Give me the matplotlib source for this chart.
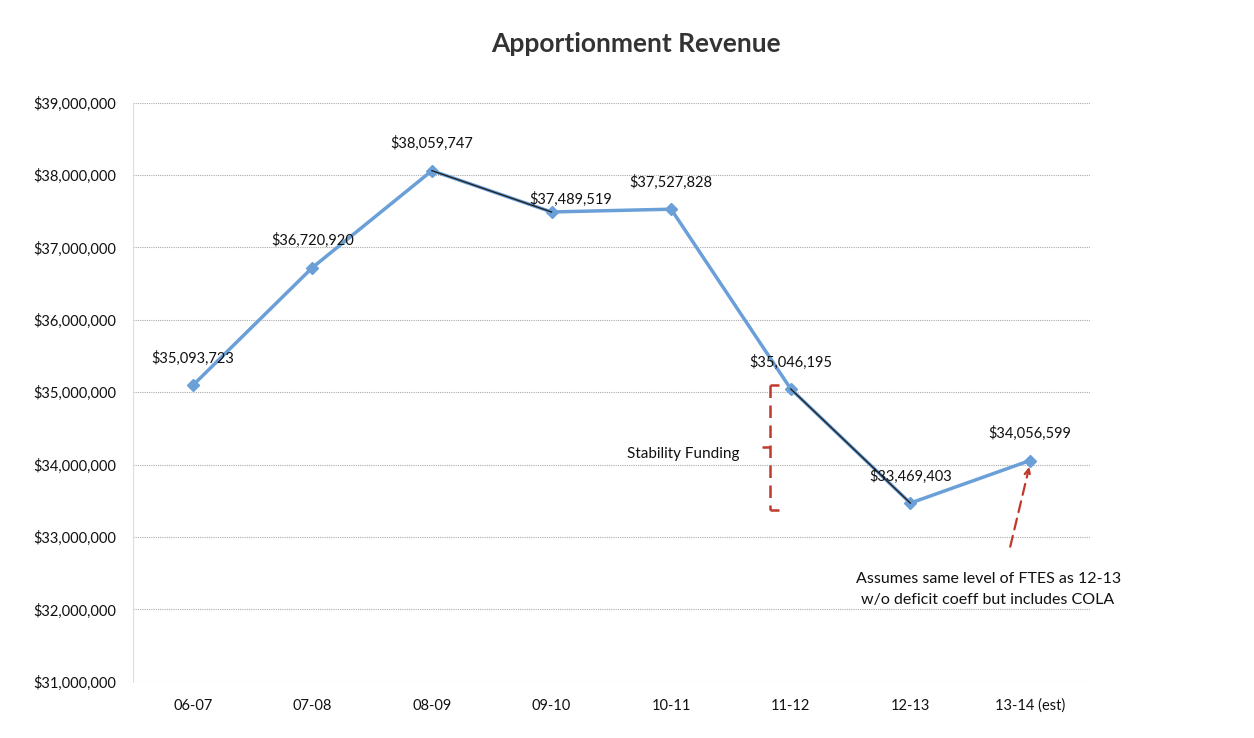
import matplotlib.pyplot as plt
from matplotlib.ticker import FuncFormatter

# ==========================================
# DATA
# ==========================================
years = ["06-07", "07-08", "08-09", "09-10", "10-11", "11-12", "12-13", "13-14 (est)"]
revenue = [35093723, 36720920, 38059747, 37489519, 37527828, 35046195, 33469403, 34056599]
y_ticks = [31e6, 32e6, 33e6, 34e6, 35e6, 36e6, 37e6, 38e6, 39e6]

# label offsets (points) for each data label
label_offsets = [(0, 14), (0, 14), (0, 14), (14, 4), (0, 14), (0, 14), (0, 14), (0, 14)]

blue = "#6a9fd8"
red = "#c0392b"
plt.rcParams['font.family'] = ['Lato', 'DejaVu Sans']

fig = plt.figure(figsize=(12.54, 7.38), dpi=100)
ax = fig.add_axes([0.106, 0.076, 0.763, 0.785])

x = list(range(len(years)))
ax.plot(x, revenue, color=blue, linewidth=2.5, marker="D", markersize=6, zorder=3)

# scanned original shows dark strokes over two of the segments
ax.plot(x[2:4], revenue[2:4], color="#222222", linewidth=1.0, zorder=4)
ax.plot(x[5:7], revenue[5:7], color="#222222", linewidth=1.0, zorder=4)

for xi, val, off in zip(x, revenue, label_offsets):
    ax.annotate(f"${val:,.0f}", (xi, val), xytext=off, textcoords="offset points",
                ha="center", va="bottom", fontsize=10.5, color="#111111", zorder=5)

# Stability funding bracket
bx = 4.83
top, mid, bot = 35.1e6, 34.25e6, 33.37e6
dash = (0, (5, 3))
ax.plot([bx, bx], [top, bot], color=red, linestyle=dash, linewidth=1.8)
ax.plot([bx, bx + 0.07], [top, top], color=red, linestyle=dash, linewidth=1.8)
ax.plot([bx, bx + 0.07], [bot, bot], color=red, linestyle=dash, linewidth=1.8)
ax.plot([bx - 0.07, bx], [mid, mid], color=red, linestyle=dash, linewidth=1.8)
ax.text(4.57, 34.15e6, "Stability Funding", ha="right", va="center", fontsize=11, color="#111111")

# arrow to estimate
ax.annotate("", xy=(7.0, revenue[7] - 0.05e6), xytext=(6.83, 32.83e6),
            arrowprops=dict(arrowstyle="->", color=red, linestyle=(0, (5, 3)), linewidth=1.6))
ax.text(6.65, 32.28e6, "Assumes same level of FTES as 12-13\nw/o deficit coeff but includes COLA",
        ha="center", va="center", fontsize=11.5, color="#111111", linespacing=1.6)

ax.set_xlim(-0.5, 7.5)
ax.set_ylim(31e6, 39e6)
ax.set_yticks(y_ticks)
ax.yaxis.set_major_formatter(FuncFormatter(lambda v, p: f"${v:,.0f}"))
ax.set_xticks(x)
ax.set_xticklabels(years)
ax.tick_params(axis="both", length=0, labelsize=10.5, colors="#111111", pad=12)
ax.grid(axis="y", color="#aaaaaa", linestyle=(0, (1, 1)), linewidth=0.8)
for s in ["top", "right", "bottom"]:
    ax.spines[s].set_visible(False)
ax.spines["left"].set_color("#dddddd")

fig.text(0.507, 0.94, "Apportionment Revenue", ha="center", va="center",
         fontsize=19, fontweight="bold", color="#333333")

fig.savefig("out.png", dpi=100, facecolor="white")
